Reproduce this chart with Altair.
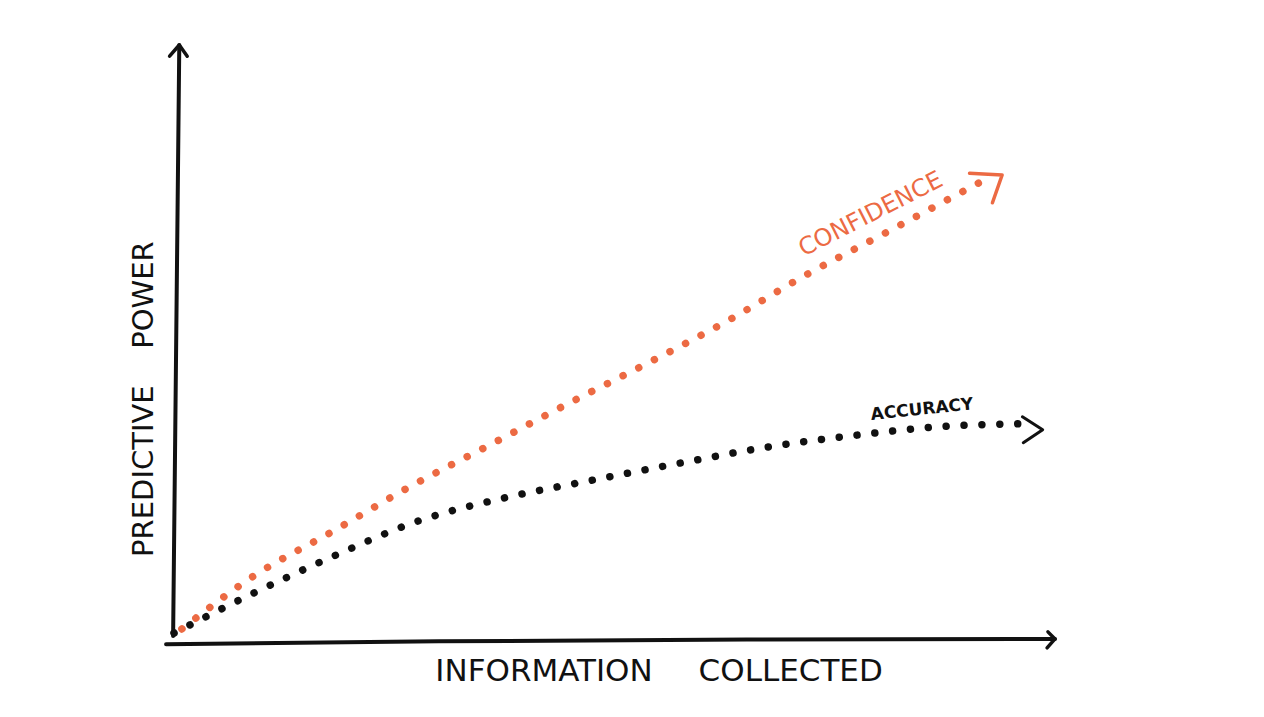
import altair as alt
import pandas as pd

# ---- data (x: information collected 0-100, y: predictive power 0-100) ----
conf_x = [0.9, 9.1, 17.9, 26.7, 35.8, 44.7, 53.8, 62.8, 71.5, 80.5, 89.4, 91.4]
conf_y = [1.2, 10.2, 17.6, 25.2, 32.3, 39.3, 46.2, 53.3, 60.9, 68.0, 75.1, 76.7]
acc_x = [0.0, 9.1, 18.4, 27.8, 37.6, 47.6, 57.6, 67.5, 77.6, 87.7, 95.8]
acc_y = [0.5, 7.3, 13.7, 19.5, 23.4, 26.4, 29.3, 32.0, 34.0, 35.5, 35.9]

# hand-drawn axis strokes and arrowheads
yaxis_x = [-0.1, 0.6]
yaxis_y = [0.0, 100.0]
xaxis_x = [-0.9, 30.0, 65.0, 100.0]
xaxis_y = [-1.4, -0.9, -0.6, -0.5]
yarrow_x = [-0.5, 0.6, 1.5]
yarrow_y = [98.1, 100.0, 98.1]
xarrow_x = [99.2, 100.0, 99.1]
xarrow_y = [0.7, -0.5, -2.0]
conf_arrow_x = [90.3, 94.0, 92.9]
conf_arrow_y = [78.3, 78.0, 73.3]
acc_arrow_x = [96.3, 98.6, 96.4]
acc_arrow_y = [37.1, 34.9, 32.7]

labels = ["CONFIDENCE", "ACCURACY", "INFORMATION", "COLLECTED", "PREDICTIVE", "POWER"]
label_x = [79.1, 84.9, 42.0, 70.0, -3.4, -3.4]
label_y = [71.3, 38.3, -6.1, -6.1, 27.9, 57.7]
label_angle = [333, 354, 0, 0, 270, 270]
label_size = [24, 17, 31, 31, 29, 29]
label_weight = ["normal", "bold", "normal", "normal", "normal", "normal"]

ORANGE = "#EC6A43"
BLACK = "#111111"

xs = alt.Scale(domain=[0, 100], nice=False, zero=False)
ys = alt.Scale(domain=[0, 100], nice=False, zero=False)

def series(name, xv, yv, color, width):
    return pd.DataFrame({"name": name, "order": range(len(xv)), "x": xv, "y": yv,
                         "c": color, "w": width})

strokes = pd.concat([
    series("yaxis", yaxis_x, yaxis_y, BLACK, 4),
    series("xaxis", xaxis_x, xaxis_y, BLACK, 4),
    series("yarrow", yarrow_x, yarrow_y, BLACK, 3.5),
    series("xarrow", xarrow_x, xarrow_y, BLACK, 3.5),
    series("conf_arrow", conf_arrow_x, conf_arrow_y, ORANGE, 3.5),
    series("acc_arrow", acc_arrow_x, acc_arrow_y, BLACK, 3),
], ignore_index=True)

X = alt.X("x:Q", scale=xs, axis=None)
Y = alt.Y("y:Q", scale=ys, axis=None)

solid = alt.Chart(strokes).mark_line(strokeCap="round", strokeJoin="round").encode(
    x=X, y=Y, detail="name:N", order="order:Q",
    color=alt.Color("c:N", scale=None), strokeWidth=alt.StrokeWidth("w:Q", scale=None))

conf_df = pd.DataFrame({"x": conf_x, "y": conf_y, "order": range(len(conf_x))})
acc_df = pd.DataFrame({"x": acc_x, "y": acc_y, "order": range(len(acc_x))})

conf_line = alt.Chart(conf_df).mark_line(
    color=ORANGE, strokeWidth=7.5, strokeCap="round", interpolate="monotone",
    strokeDash=[0.01, 17.56]).encode(x=X, y=Y, order="order:Q")
acc_line = alt.Chart(acc_df).mark_line(
    color=BLACK, strokeWidth=7.5, strokeCap="round", interpolate="monotone",
    strokeDash=[0.01, 17.9]).encode(x=X, y=Y, order="order:Q")

text_layers = []
for t, lx, ly, ang, sz, wt in zip(labels, label_x, label_y, label_angle, label_size, label_weight):
    col = ORANGE if t == "CONFIDENCE" else BLACK
    d = pd.DataFrame({"t": [t], "x": [lx], "y": [ly]})
    text_layers.append(alt.Chart(d).mark_text(
        font="DejaVu Sans", fontSize=sz, fontWeight=wt, angle=ang, color=col,
        align="center", baseline="middle").encode(x=X, y=Y, text="t:N"))

chart = alt.layer(solid, conf_line, acc_line, *text_layers).properties(
    width=881, height=591,
    padding={"left": 166, "top": 37, "right": 190, "bottom": 70},
    autosize="none",
    background="white",
).configure_view(stroke=None, strokeWidth=0)

chart.save("out.html", embed_options={"renderer": "svg", "actions": False})
